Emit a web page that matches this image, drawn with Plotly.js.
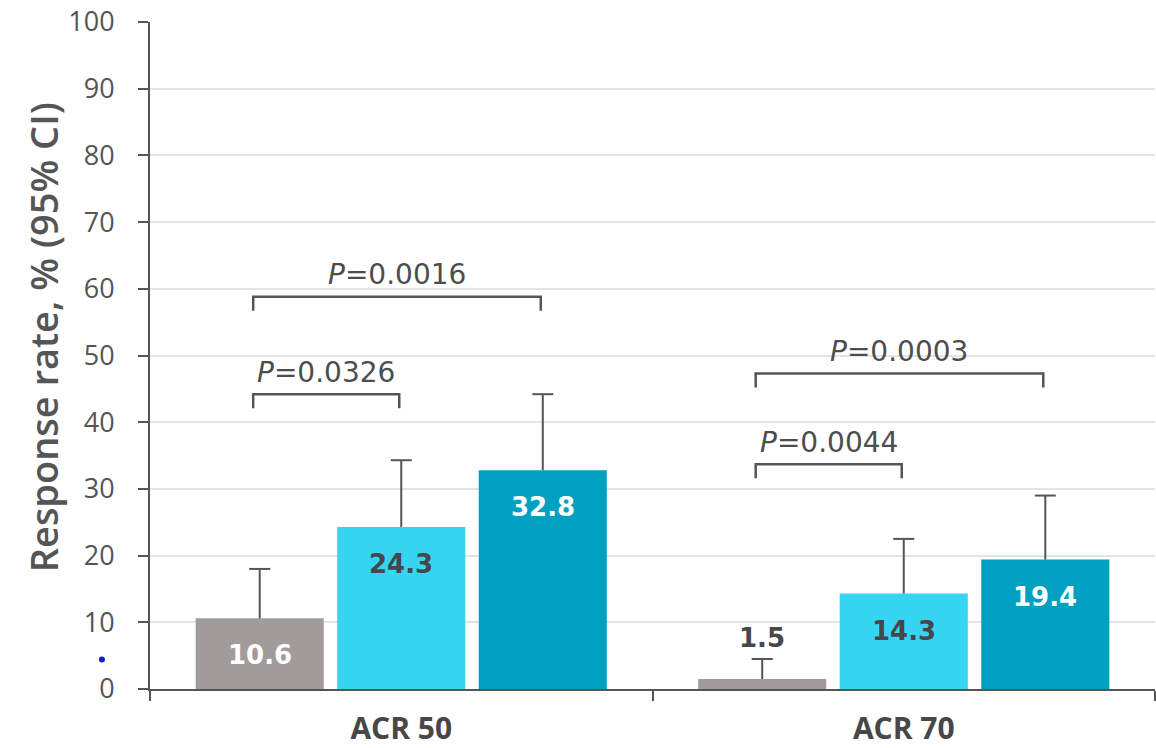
<!DOCTYPE html>
<html>
<head>
<meta charset="utf-8">
<script src="https://cdn.plot.ly/plotly-3.0.1.min.js"></script>
<style>html,body{margin:0;padding:0;background:#fff;}#chart{width:1156px;height:748px;}</style>
</head>
<body>
<div id="chart"></div>
<script>
// ---- data ----
const categories = ['ACR 50', 'ACR 70'];
const seriesNames = ['Group 1', 'Group 2', 'Group 3'];
const group1Values = [10.6, 1.5];
const group2Values = [24.3, 14.3];
const group3Values = [32.8, 19.4];
const group1Upper = [18.0, 4.5];
const group2Upper = [34.3, 22.5];
const group3Upper = [44.2, 29.0];
// comparisons: category index, compared series index (vs series 0), p value, bracket level
const compCategory = [0, 0, 1, 1];
const compTarget = [1, 2, 1, 2];
const compP = ['0.0326', '0.0016', '0.0044', '0.0003'];
const compLevel = [44.2, 58.8, 33.7, 47.3];
const yTickVals = [0, 10, 20, 30, 40, 50, 60, 70, 80, 90, 100];

// ---- style ----
const colors = ['#a19b9c', '#35d5f1', '#00a0c1'];
const labelColors = ['#ffffff', '#45474a', '#ffffff'];
const ink = '#555555';
const bargap = 0.155, bargroupgap = 0.095;

const values = [group1Values, group2Values, group3Values];
const uppers = [group1Upper, group2Upper, group3Upper];

const slot = (1 - bargap) / 3;
const offset = i => -(1 - bargap) / 2 + (i + 0.5) * slot;

const traces = values.map((v, i) => ({
  type: 'bar',
  name: seriesNames[i],
  x: categories,
  y: v,
  marker: {color: colors[i], line: {width: 0}},
  error_y: {
    type: 'data', symmetric: false,
    array: v.map((val, j) => uppers[i][j] - val),
    arrayminus: v.map(() => 0),
    color: ink, thickness: 2, width: 0
  },
  hoverinfo: 'skip'
}));

// caps of the upper CI whiskers
const capX = [], capY = [];
uppers.forEach((u, i) => u.forEach((val, j) => { capX.push(j + offset(i)); capY.push(val); }));
traces.push({
  type: 'scatter', mode: 'markers', xaxis: 'x2', yaxis: 'y',
  x: capX, y: capY,
  marker: {symbol: 'line-ew', size: 15, color: ink, line: {color: ink, width: 2}},
  hoverinfo: 'skip', showlegend: false
});

const annotations = [];
values.forEach((v, i) => {
  v.forEach((val, j) => {
    const inside = val > 5;
    annotations.push({
      xref: 'x', yref: 'y',
      x: j + offset(i),
      y: inside ? val : uppers[i][j],
      yshift: inside ? -37 : 21,
      text: val.toFixed(1),
      showarrow: false,
      font: {family: 'DejaVu Sans', size: 26, weight: 'bold', color: inside ? labelColors[i] : '#45474a'},
      xanchor: 'center', yanchor: 'middle'
    });
  });
});

const shapes = [];
const drop = 2.1;
compCategory.forEach((c, k) => {
  const x1 = c + offset(0) - 0.013;
  const x2 = c + offset(compTarget[k]) - 0.004;
  const yt = compLevel[k], yb = yt - drop;
  shapes.push({
    type: 'path', xref: 'x', yref: 'y',
    path: `M ${x1},${yb} L ${x1},${yt} L ${x2},${yt} L ${x2},${yb}`,
    line: {color: ink, width: 2.5}
  });
  annotations.push({
    xref: 'x', yref: 'y',
    x: (x1 + x2) / 2, y: yt, yshift: 22,
    text: '<i>P</i>=' + compP[k],
    showarrow: false,
    font: {family: 'DejaVu Sans', size: 28, color: '#4d4d4d'},
    xanchor: 'center', yanchor: 'middle'
  });
});

// y-axis title
annotations.push({
  xref: 'paper', yref: 'paper', x: -0.107, y: 0.528,
  text: 'Response rate, % (95% CI)', textangle: -90, showarrow: false,
  font: {family: 'Open Sans', size: 38, weight: 600, color: ink},
  xanchor: 'center', yanchor: 'middle'
});

// small blue dot
shapes.push({type: 'circle', xref: 'paper', yref: 'paper',
  x0: -0.0508, x1: -0.0448, y0: 0.0398, y1: 0.0488,
  fillcolor: '#1a1acc', line: {width: 0}});

const layout = {
  width: 1156, height: 748,
  margin: {l: 150, r: 1, t: 22, b: 59, pad: 0},
  paper_bgcolor: '#ffffff', plot_bgcolor: '#ffffff',
  barmode: 'group', bargap: bargap, bargroupgap: bargroupgap,
  showlegend: false,
  xaxis: {
    type: 'category', range: [-0.5, 1.5],
    showline: true, linecolor: ink, linewidth: 2,
    ticks: 'outside', tickson: 'boundaries', ticklen: 10, tickcolor: ink, tickwidth: 2,
    ticklabelstandoff: 12,
    tickfont: {family: 'Open Sans', size: 30, weight: 'bold', color: '#474747'},
    showgrid: false, zeroline: false, fixedrange: true
  },
  xaxis2: {
    type: 'linear', range: [-0.5, 1.5], overlaying: 'x', visible: false, fixedrange: true
  },
  yaxis: {
    range: [0, 100], tickvals: yTickVals, ticktext: yTickVals.map(String),
    showline: true, linecolor: ink, linewidth: 2,
    ticks: 'outside', ticklen: 10, tickcolor: ink, tickwidth: 2,
    ticklabelstandoff: 18,
    tickfont: {family: 'Open Sans', size: 27, color: '#555555'},
    showgrid: true, gridcolor: '#e4e4e4', gridwidth: 2,
    zeroline: false, fixedrange: true
  },
  annotations: annotations,
  shapes: shapes
};

Plotly.newPlot('chart', traces, layout, {displayModeBar: false, staticPlot: true});
</script>
</body>
</html>
